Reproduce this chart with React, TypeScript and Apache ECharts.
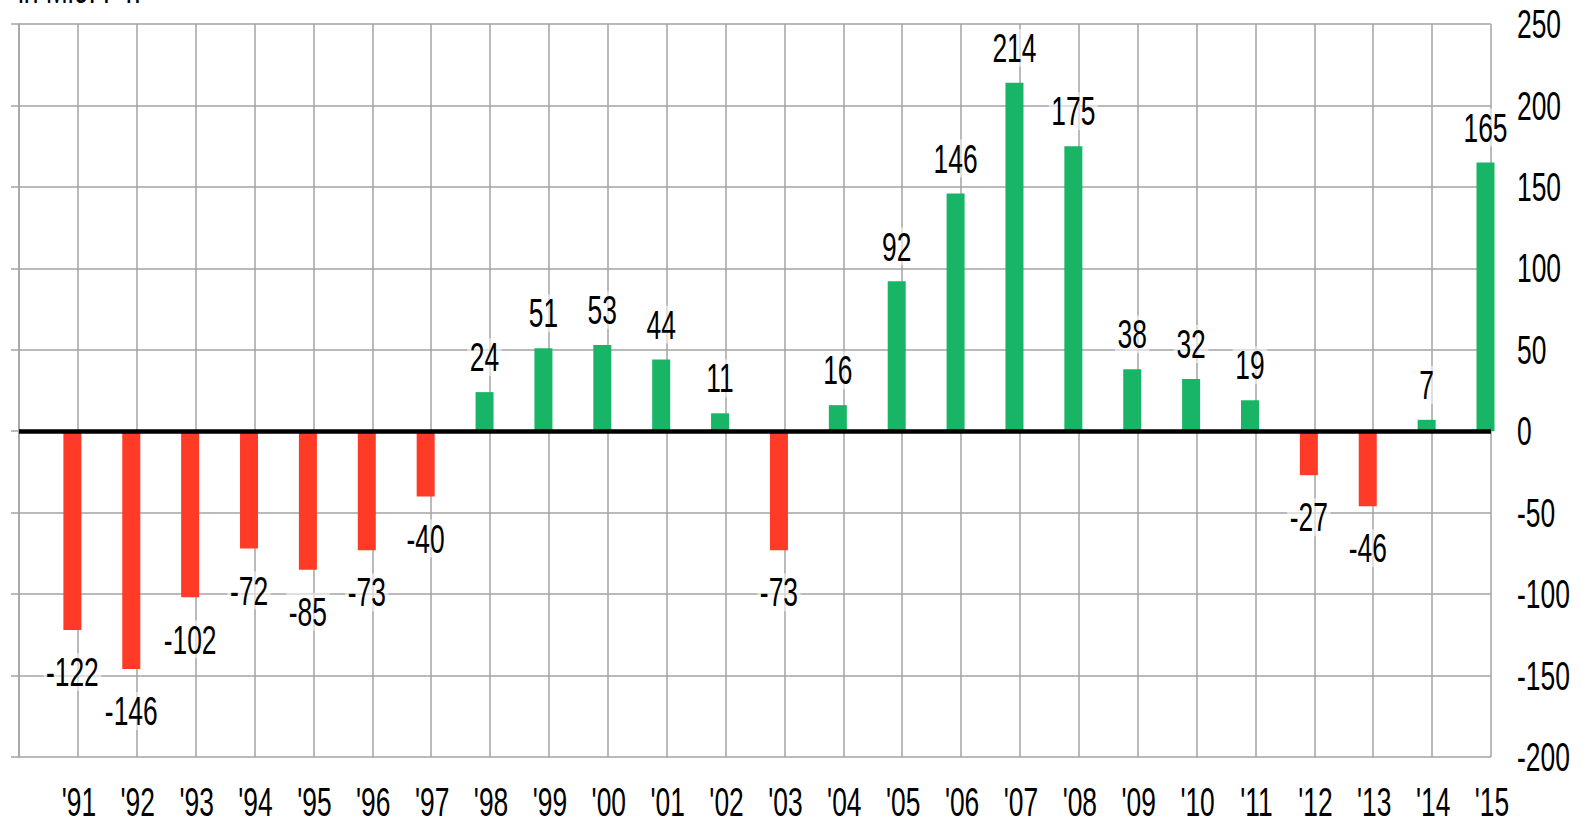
import React, { useEffect, useRef } from "react";
import * as echarts from "echarts";

const categories = ["'91", "'92", "'93", "'94", "'95", "'96", "'97", "'98", "'99", "'00", "'01", "'02", "'03", "'04", "'05", "'06", "'07", "'08", "'09", "'10", "'11", "'12", "'13", "'14", "'15"];
const values = [-122, -146, -102, -72, -85, -73, -40, 24, 51, 53, 44, 11, -73, 16, 92, 146, 214, 175, 38, 32, 19, -27, -46, 7, 165];
const yTicks = [-200, -150, -100, -50, 0, 50, 100, 150, 200, 250];
const yMin = -200;
const yMax = 250;
const yInterval = 50;
const unitLabel = "in Mio. PT.";

const FONT = "'Liberation Sans', Arial, sans-serif";
const FS = 40;
const SX = 0.66;
const GREEN = "#17B565";
const RED = "#FF3A26";
const GRID = "#a3a3a3";
const BAR_OFFSET = -5.5;

export default function App() {
  const ref = useRef<HTMLDivElement>(null);
  useEffect(() => {
    if (!ref.current) return;
    const chart = echarts.init(ref.current, undefined, { renderer: "svg" });
    const axisData = ["", ...categories];
    const barData = [null as any, ...values.map((v) => ({
      value: v,
      itemStyle: { color: v < 0 ? RED : GREEN },
    }))];
    const labelData = values.map((v, i) => [i + 1, v]);
    const xLabelData = categories.map((_, i) => [i + 1, yMin]);
    const yLabelData = yTicks.map((t) => [categories.length, t]);

    const textEl = (x: number, y: number, text: string, align: string, bg?: boolean) => ({
      type: "text",
      x,
      y,
      scaleX: SX,
      scaleY: 1,
      style: {
        x: 0,
        y: 0,
        text,
        fontFamily: FONT,
        fontSize: FS,
        lineHeight: 30,
        fill: "#000",
        align,
        verticalAlign: "middle",
        ...(bg ? { backgroundColor: "rgba(255,255,255,0.55)", padding: [4, 4] } : {}),
      },
    });

    chart.setOption({
      animation: false,
      backgroundColor: "#fff",
      grid: { left: 19, right: 91, top: 24, bottom: 68, containLabel: false },
      graphic: [
        {
          type: "text",
          x: 18,
          y: -11,
          scaleX: SX,
          style: { x: 0, y: 0, text: unitLabel, fontFamily: FONT, fontSize: FS, lineHeight: 30, fill: "#000", align: "left", verticalAlign: "middle" },
        },
      ],
      xAxis: {
        type: "category",
        data: axisData,
        boundaryGap: false,
        axisLine: { show: false },
        axisTick: { show: false },
        axisLabel: { show: false },
        splitLine: { show: true, lineStyle: { color: GRID, width: 1.5 } },
      },
      yAxis: [
        {
          type: "value",
          position: "right",
          min: yMin,
          max: yMax,
          interval: yInterval,
          axisLine: { show: false },
          axisTick: { show: false },
          axisLabel: { show: false },
          splitLine: { show: true, lineStyle: { color: GRID, width: 1.5 } },
        },
        {
          type: "value",
          position: "left",
          min: yMin,
          max: yMax,
          interval: yInterval,
          axisLine: { show: true, lineStyle: { color: GRID, width: 1.5 } },
          axisTick: { show: true, length: 8, lineStyle: { color: GRID, width: 1.5 } },
          axisLabel: { show: false },
          splitLine: { show: false },
        },
      ],
      series: [
        {
          type: "bar",
          data: barData,
          barWidth: 18,
          barGap: "-39%",
          markLine: {
            silent: true,
            symbol: "none",
            label: { show: false },
            lineStyle: { color: "#000", width: 4.5, type: "solid" },
            data: [{ yAxis: 0 }],
          },
        },
        {
          type: "bar",
          data: axisData.map(() => null),
          barWidth: 18,
        },
        {
          type: "custom",
          data: labelData,
          clip: false,
          z: 5,
          renderItem: (params: any, api: any) => {
            const v = api.value(1);
            const p = api.coord([api.value(0), v]);
            const y = v < 0 ? p[1] + 42 : p[1] - 35;
            return textEl(p[0] + BAR_OFFSET, y, String(v), "center", true);
          },
        },
        {
          type: "custom",
          data: xLabelData,
          clip: false,
          renderItem: (params: any, api: any) => {
            const p = api.coord([api.value(0), api.value(1)]);
            return textEl(p[0] + 1, p[1] + 45, categories[params.dataIndex], "center");
          },
        },
        {
          type: "custom",
          data: yLabelData,
          clip: false,
          renderItem: (params: any, api: any) => {
            const p = api.coord([api.value(0), api.value(1)]);
            return textEl(p[0] + 26, p[1], String(yTicks[params.dataIndex]), "left");
          },
        },
      ],
    });
    return () => chart.dispose();
  }, []);
  return <div ref={ref} style={{ position: "fixed", left: 0, top: 0, width: 1582, height: 825 }} />;
}
